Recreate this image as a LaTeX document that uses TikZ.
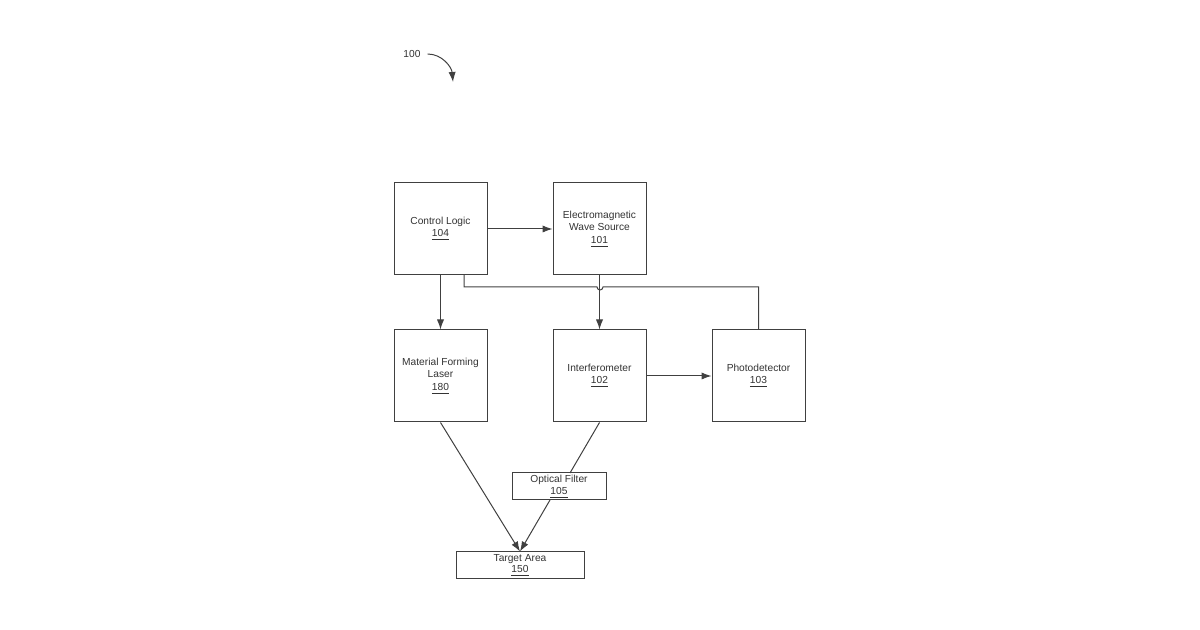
\documentclass[tikz,border=0pt]{standalone}
\usepackage{fontspec}
\setmainfont{Liberation Sans}
\usetikzlibrary{arrows.meta}
\begin{document}
\begin{tikzpicture}[x=0.5pt,y=-0.5pt,
    blk/.style={rectangle,draw=black!75,line width=0.5pt,minimum width=46.5pt,minimum height=46pt,align=center,font=\fontsize{5.1}{6.3}\selectfont,text=black!80},
    slim/.style={rectangle,draw=black!75,line width=0.5pt,minimum height=13.5pt,align=center,font=\fontsize{5.1}{5.9}\selectfont,text=black!80,inner sep=0pt},
    conn/.style={draw=black!75,line width=0.5pt,-{Latex[length=5pt,width=3.6pt]}}]
  \useasboundingbox (0,0) rectangle (1200,630);
  \node[blk] (ctl) at (440.5,229) {Control Logic\\\underline{104}};
  \node[blk] (ems) at (599.5,229) {Electromagnetic\\Wave Source\\\underline{101}};
  \node[blk] (mfl) at (440.5,376) {Material Forming\\Laser\\\underline{180}};
  \node[blk] (ifm) at (599.5,376) {Interferometer\\\underline{102}};
  \node[blk] (pd) at (758.5,376) {Photodetector\\\underline{103}};
  \node[slim,minimum width=47pt] (of) at (559,486.5) {Optical Filter\\\underline{105}};
  \node[slim,minimum width=64pt] (ta) at (520,565.5) {Target Area\\\underline{150}};
  % connectors
  \draw[conn] (ctl) -- (ems);
  \draw[conn] (ctl) -- (mfl);
  \draw[conn] (ems) -- (ifm);
  \draw[conn] (ifm) -- (pd);
  \draw[conn] (mfl.south) -- (ta.north);
  \draw[draw=black!75,line width=0.5pt] (ifm.south) -- (570,473);
  \draw[conn] (550,500) -- (ta.north);
  % feedback with hop
  \draw[draw=black!75,line width=0.5pt] (pd.north) |- (603,287) arc (0:180:3) -- (464,287) -- (464,275);
  % reference label
  \node[font=\fontsize{5.1}{6.3}\selectfont,text=black!80] (ref) at (412,54) {100};
  \draw[conn] (ref.east) to[out=0,in=95] (453,82);
\end{tikzpicture}
\end{document}
